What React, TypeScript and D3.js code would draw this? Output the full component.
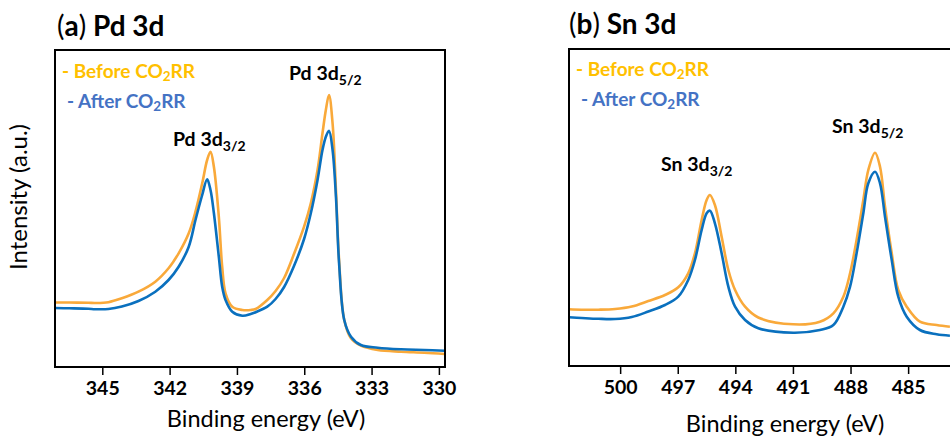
import React from "react";
import * as d3 from "d3";

// ---------- Data ----------
const pdEnergy = [347.13, 346.5, 345.64, 345.34, 344.75, 344.15, 343.41, 342.66, 342.07, 341.62, 341.17, 340.87, 340.57, 340.35, 340.2, 340.05, 339.83, 339.68, 339.53, 339.23, 338.78, 338.41, 338.19, 337.67, 337.3, 336.92, 336.48, 336.03, 335.73, 335.43, 335.21, 335.06, 334.92, 334.76, 334.61, 334.47, 334.24, 333.94, 333.5, 332.75, 331.71, 330.67, 329.77];
const pdBefore = [64.5, 64.5, 64.2, 64, 64.8, 68.7, 75.3, 85.3, 98.7, 113.7, 133.7, 155.3, 183.7, 207, 215.3, 200.3, 150.3, 100.3, 73.7, 60.3, 57, 57, 58, 67, 76, 89, 113, 140.3, 163.7, 197, 233.7, 257, 272, 243.7, 177, 107, 47, 28.7, 21.3, 17, 15.3, 14.3, 13];
const pdAfter = [59, 58.7, 58.2, 57.8, 58, 60.5, 66, 75.3, 87, 100.3, 120.3, 147, 172, 187.7, 177, 154, 110.3, 80.3, 67, 55.3, 51.3, 53, 54.8, 60.3, 68, 80, 101, 128, 153.7, 187, 217, 230.3, 236.3, 217, 170.3, 103.7, 47, 30.3, 22, 19.3, 17.7, 17, 16.3];

const snEnergy = [502.69, 502.03, 501.16, 500.29, 499.42, 498.56, 497.69, 497.0, 496.48, 496.13, 495.78, 495.52, 495.35, 495.09, 494.74, 494.39, 494.04, 493.52, 492.83, 491.01, 489.62, 488.92, 488.4, 488.05, 487.71, 487.36, 487.1, 486.75, 486.49, 486.23, 485.88, 485.54, 485.1, 484.41, 483.54, 482.85];
const snBefore = [56.7, 56.3, 56.3, 57, 59.5, 65, 71, 78.7, 92.7, 112.7, 146, 166, 171, 161, 129.3, 96, 76, 59.3, 48.5, 41.7, 44.3, 52.7, 69.3, 92.7, 126, 166, 196, 213.3, 199.3, 159.3, 112.7, 76, 59.3, 44.3, 41, 39.3];
const snAfter = [48.7, 48, 47.2, 47, 49, 54.5, 61, 69.3, 86, 106, 136, 152.7, 155.3, 142.7, 112.7, 79.3, 59.3, 46, 37.7, 33.3, 36, 41, 59.3, 79.3, 112.7, 152.7, 182.7, 194.3, 182.7, 149.3, 106, 69.3, 49.3, 36, 31.7, 30.3];

const pdTicks = [345, 342, 339, 336, 333, 330];
const snTicks = [500, 497, 494, 491, 488, 485];

const seriesNames = ["Before CO", "After CO"];
const FONT = "Lato, 'Open Sans', sans-serif";
const ORANGE_LINE = "#F9A93A";
const BLUE_LINE = "#0A70BE";
const ORANGE_TEXT = "#FFC000";
const BLUE_TEXT = "#4472C4";

type PanelProps = {
  letter: string;
  element: string;
  x0: number; x1: number; y0: number; y1: number;
  xDomain: [number, number];
  energy: number[]; before: number[]; after: number[];
  ticks: number[];
  rightSpine: boolean;
  titleX: number; titleY: number;
  legX: number; legY: number;
  peaks: { label: string; sub: string; x: number; y: number }[];
  xTitleX: number; xTitleY: number;
};

function Panel(p: PanelProps) {
  const x = d3.scaleLinear().domain(p.xDomain).range([p.x0, p.x1]);
  const y = d3.scaleLinear().domain([0, 317]).range([p.y1, p.y0]);
  const line = d3
    .line<number>()
    .x((_, i) => x(p.energy[i]))
    .y((d) => y(d))
    .curve(d3.curveCatmullRom.alpha(0.5));
  return (
    <g>
      <text x={p.titleX} y={p.titleY} fontFamily={FONT} fontSize={28} fill="#000">
        <tspan fontWeight="normal">(</tspan>
        <tspan fontWeight="bold">{p.letter}</tspan>
        <tspan fontWeight="normal">)</tspan>
        <tspan fontWeight="bold">{" " + p.element}</tspan>
      </text>
      <path d={line(p.before) || ""} fill="none" stroke={ORANGE_LINE} strokeWidth={2.6} strokeLinejoin="round" />
      <path d={line(p.after) || ""} fill="none" stroke={BLUE_LINE} strokeWidth={2.6} strokeLinejoin="round" />
      {/* frame */}
      <path
        d={
          p.rightSpine
            ? `M${p.x0},${p.y0}H${p.x1}V${p.y1}H${p.x0}Z`
            : `M${p.x1},${p.y0}H${p.x0}V${p.y1}H${p.x1}`
        }
        fill="none"
        stroke="#000"
        strokeWidth={2}
      />
      {p.ticks.map((t) => (
        <g key={t}>
          <line x1={x(t)} x2={x(t)} y1={p.y1} y2={p.y1 + 8} stroke="#000" strokeWidth={1.5} />
          <text x={x(t)} y={p.y1 + 28} textAnchor="middle" fontFamily={FONT} fontWeight="bold" fontSize={19.5} fill="#000">
            {t}
          </text>
        </g>
      ))}
      <text x={p.xTitleX} y={p.xTitleY} textAnchor="middle" fontFamily={FONT} fontSize={23.5} fill="#000">
        Binding energy (eV)
      </text>
      {/* legend */}
      <text x={p.legX} y={p.legY} fontFamily={FONT} fontWeight="bold" fontSize={19} fill={ORANGE_TEXT}>
        {"- " + seriesNames[0]}
        <tspan fontSize={13.5} dy={3}>2</tspan>
        <tspan dy={-3}>RR</tspan>
      </text>
      <text x={p.legX + 5} y={p.legY + 30} fontFamily={FONT} fontWeight="bold" fontSize={19} fill={BLUE_TEXT}>
        {"- " + seriesNames[1]}
        <tspan fontSize={13.5} dy={3}>2</tspan>
        <tspan dy={-3}>RR</tspan>
      </text>
      {p.peaks.map((pk) => (
        <text key={pk.sub} x={pk.x} y={pk.y} fontFamily={FONT} fontWeight="bold" fontSize={19.5} fill="#000">
          {pk.label}
          <tspan fontSize={14} dy={5}>{pk.sub}</tspan>
        </text>
      ))}
    </g>
  );
}

export default function App() {
  return (
    <svg
      width={950}
      height={439}
      viewBox="0 0 950 439"
      style={{ position: "absolute", left: 0, top: 0, background: "#fff", overflow: "hidden" }}
    >
      <rect width={950} height={439} fill="#fff" />
      <text
        transform="translate(27,197) rotate(-90)"
        textAnchor="middle"
        fontFamily={FONT}
        fontSize={24}
        fill="#000"
      >
        Intensity (a.u.)
      </text>
      <Panel
        letter="a"
        element="Pd 3d"
        x0={55} x1={445} y0={50} y1={367}
        xDomain={[347.13, 329.75]}
        energy={pdEnergy} before={pdBefore} after={pdAfter}
        ticks={pdTicks}
        rightSpine={true}
        titleX={57} titleY={36}
        legX={62} legY={78}
        peaks={[
          { label: "Pd 3d", sub: "3/2", x: 173, y: 146 },
          { label: "Pd 3d", sub: "5/2", x: 289, y: 80 },
        ]}
        xTitleX={266} xTitleY={427}
      />
      <Panel
        letter="b"
        element="Sn 3d"
        x0={569} x1={962} y0={49} y1={366}
        xDomain={[502.69, 482.22]}
        energy={snEnergy} before={snBefore} after={snAfter}
        ticks={snTicks}
        rightSpine={false}
        titleX={569} titleY={34}
        legX={576} legY={76}
        peaks={[
          { label: "Sn 3d", sub: "3/2", x: 661, y: 171 },
          { label: "Sn 3d", sub: "5/2", x: 832, y: 133 },
        ]}
        xTitleX={785} xTitleY={432}
      />
    </svg>
  );
}
